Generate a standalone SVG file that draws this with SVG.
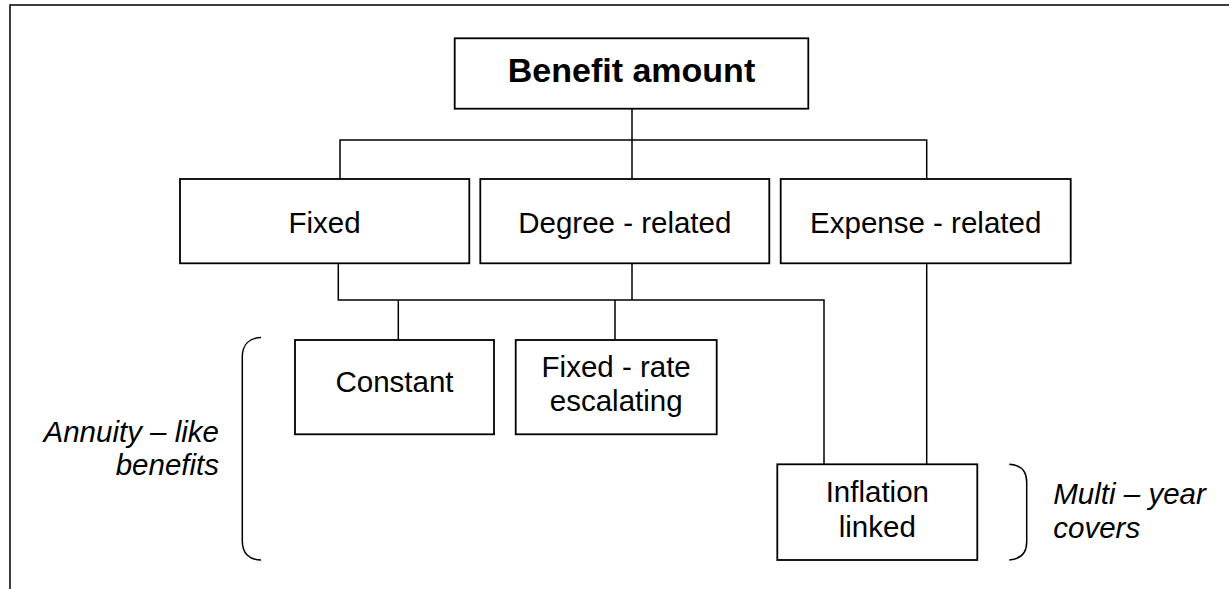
<svg xmlns="http://www.w3.org/2000/svg" width="1229" height="589" viewBox="0 0 1229 589">
  <style>
    .box { fill: #ffffff; stroke: #000000; stroke-width: 1.8; }
    .wire { fill: none; stroke: #000000; stroke-width: 1.5; }
    .frame { fill: none; stroke: #000000; stroke-width: 1.5; }
    .label { font-family: "Liberation Sans", Arial, sans-serif; font-size: 29.5px; fill: #000000; text-anchor: middle; }
    .title { font-family: "Liberation Sans", Arial, sans-serif; font-size: 34px; font-weight: bold; fill: #000000; text-anchor: middle; }
    .note { font-family: "Liberation Sans", Arial, sans-serif; font-size: 29.5px; font-style: italic; fill: #000000; }
  </style>
  <rect x="0" y="0" width="1229" height="589" fill="#ffffff"/>

  <!-- page frame -->
  <path class="frame" d="M10,589 V5 H1229"/>

  <!-- connectors -->
  <g id="connectors">
    <path class="wire" d="M632,108.7 V179"/>
    <path class="wire" d="M340,179 V140 H926.7 V179"/>
    <path class="wire" d="M338.3,263.3 V300 H824 V464.3"/>
    <path class="wire" d="M632,263.3 V300"/>
    <path class="wire" d="M398.3,300 V340"/>
    <path class="wire" d="M615,300 V340"/>
    <path class="wire" d="M926.7,263.3 V464.3"/>
  </g>

  <g id="benefit-amount">
    <rect class="box" x="454.7" y="38.3" width="353.6" height="70.4"/>
    <text class="title" x="631.5" y="81.7">Benefit amount</text>
  </g>

  <g id="fixed">
    <rect class="box" x="180" y="179" width="289.3" height="84.3"/>
    <text class="label" x="324.5" y="232.7">Fixed</text>
  </g>

  <g id="degree-related">
    <rect class="box" x="480.3" y="179" width="289" height="84.3"/>
    <text class="label" x="624.8" y="232.7">Degree - related</text>
  </g>

  <g id="expense-related">
    <rect class="box" x="780.7" y="179" width="290" height="84.3"/>
    <text class="label" x="925.7" y="232.7">Expense - related</text>
  </g>

  <g id="constant">
    <rect class="box" x="295" y="340" width="199" height="94.3"/>
    <text class="label" x="394.5" y="391.7">Constant</text>
  </g>

  <g id="fixed-rate-escalating">
    <rect class="box" x="515.7" y="340" width="201" height="94.3"/>
    <text class="label" x="616.2" y="376.7">Fixed - rate</text>
    <text class="label" x="616.2" y="411">escalating</text>
  </g>

  <g id="inflation-linked">
    <rect class="box" x="777.3" y="464.3" width="200" height="95.7"/>
    <text class="label" x="877.3" y="501.7">Inflation</text>
    <text class="label" x="877.3" y="537.3">linked</text>
  </g>

  <!-- grouping brackets and their captions -->
  <g id="annuity-like">
    <path class="wire" d="M261,337.5 C249,338 242.3,345 242.3,357 L242.3,541 C242.3,553 249,560 261,560"/>
    <text class="note" x="219" y="441.7" text-anchor="end">Annuity – like</text>
    <text class="note" x="219" y="475" text-anchor="end">benefits</text>
  </g>

  <g id="multi-year">
    <path class="wire" d="M1009.3,464.3 C1021,465 1026.7,471 1026.7,482 L1026.7,542 C1026.7,553 1021,559 1009.3,560"/>
    <text class="note" x="1053.3" y="504">Multi – year</text>
    <text class="note" x="1053.3" y="538.3">covers</text>
  </g>
</svg>
